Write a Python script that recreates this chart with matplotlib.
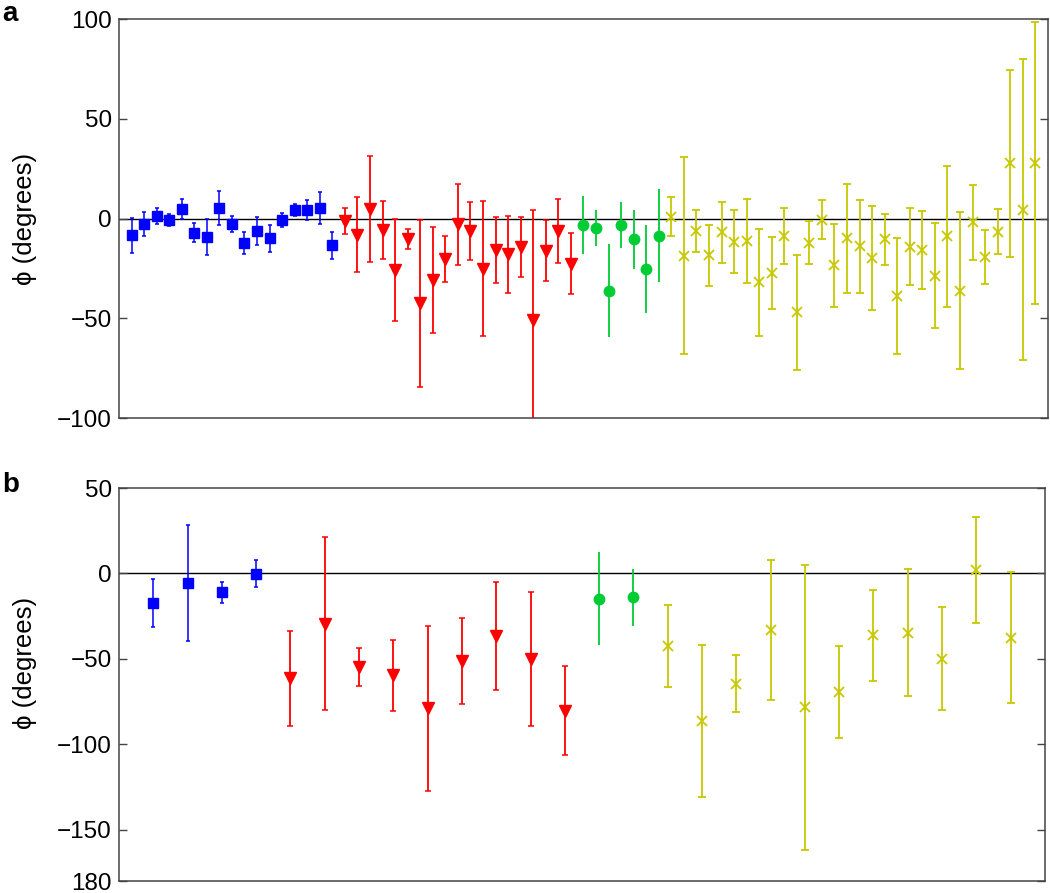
import matplotlib
matplotlib.use("Agg")
import matplotlib.pyplot as plt
import numpy as np

plt.rcParams['font.family'] = ['Liberation Sans', 'DejaVu Sans']
plt.rcParams['font.size'] = 17

# panel a: phase values and half-widths of the error bars
a_blue = [-8.3, -2.6, 1.3, -0.9, 4.9, -7.1, -9.1, 5.4, -2.8, -12.3, -6.3, -10.0,
          -0.8, 4.3, 4.4, 5.3, -13.5]
a_blue_err = [8.8, 6.1, 4.2, 3.0, 4.9, 4.7, 9.0, 8.6, 4.0, 5.7, 6.9, 7.0,
              3.7, 3.0, 5.1, 7.9, 6.7]
a_red = [-1.3, -8.1, 4.9, -5.9, -25.8, -10.2, -42.5, -30.7, -20.4, -2.9, -6.1,
         -25.1, -15.7, -17.9, -14.3, -51.0, -16.2, -6.4, -22.6]
a_red_err = [6.7, 18.9, 26.6, 14.6, 25.4, 5.1, 42.0, 26.6, 11.6, 20.4, 14.6,
             33.8, 16.4, 19.2, 15.2, 55.3, 15.3, 16.0, 15.3]
a_green = [-3.4, -4.8, -36.1, -3.3, -10.5, -25.3, -8.6]
a_green_err = [14.6, 9.0, 23.5, 11.7, 14.7, 21.9, 23.3]
a_yellow = [1.0, -18.6, -6.3, -18.3, -6.9, -11.6, -11.2, -32.0, -27.3, -8.8,
            -47.0, -12.1, -0.6, -23.4, -10.0, -13.8, -20.0, -10.5, -38.9, -14.2,
            -15.7, -28.6, -9.0, -36.1, -1.8, -19.1, -6.7, 27.6, 4.4, 27.8]
a_yellow_err = [10.0, 49.2, 10.7, 15.3, 15.2, 15.7, 20.9, 26.9, 18.2, 14.1,
                28.8, 10.8, 9.9, 20.8, 27.1, 23.3, 26.1, 12.6, 29.2, 19.3,
                19.4, 26.4, 35.3, 39.4, 18.8, 13.5, 11.3, 46.8, 75.5, 70.9]

# panel b
b_blue = [-17.3, -5.4, -11.1, -0.2]
b_blue_err = [13.9, 34.0, 6.3, 8.0]
b_red = [-61.4, -29.3, -54.8, -59.6, -79.0, -51.2, -36.8, -50.0, -80.2]
b_red_err = [27.8, 50.7, 10.9, 20.7, 48.2, 25.2, 31.6, 39.2, 26.3]
b_green = [-14.7, -13.9]
b_green_err = [27.3, 16.6]
b_yellow = [-42.3, -86.3, -64.5, -33.0, -78.2, -69.5, -36.2, -34.6, -49.9, 2.2, -37.5]
b_yellow_err = [24.0, 44.3, 16.6, 40.8, 83.4, 26.9, 26.8, 37.2, 30.0, 30.9, 38.5]

a_yticks = [100, 50, 0, -50, -100]
a_ylabels = ['100', '50', '0', '\u221250', '\u2212100']
b_yticks = [50, 0, -50, -100, -150, -180]
b_ylabels = ['50', '0', '\u221250', '\u2212100', '\u2212150', '180']

BLUE = '#0000ff'
RED = '#ff0000'
GREEN = '#00cc33'
YELLOW = '#c8c800'

styles = [
    dict(color=BLUE, marker='s', ms=6.5, capsize=1.5, elinewidth=1.1, capthick=1.1),
    dict(color=RED, marker='v', ms=8, capsize=2, elinewidth=1.3, capthick=1.1),
    dict(color=GREEN, marker='o', ms=7.5, capsize=0, elinewidth=1.3),
    dict(color=YELLOW, marker='x', ms=7, mew=1.3, capsize=3, elinewidth=1.3, capthick=1.1),
]


def draw_panel(ax, groups, xmax, ylim, yticks, ylabels, label_y):
    start = 1
    for (vals, errs), st in zip(groups, styles):
        x = np.arange(start, start + len(vals))
        ax.errorbar(x, vals, yerr=errs, linestyle='none', **st)
        start += len(vals)
    ax.axhline(0, color='black', lw=1.0, zorder=0)
    ax.set_xlim(0, xmax)
    ax.set_ylim(*ylim)
    ax.set_xticks([])
    ax.set_yticks(yticks)
    ax.set_yticklabels(ylabels)
    ax.tick_params(axis='y', direction='in', length=6, width=1, right=True,
                   labelsize=17.5, pad=5, color='#444444')
    for s in ax.spines.values():
        s.set_color('#444444')
        s.set_linewidth(1.1)
    ax.set_ylabel('\u03d5 (degrees)', fontsize=18.5)
    ax.yaxis.set_label_coords(-0.088, label_y)


fig = plt.figure(figsize=(10.5, 8.93), dpi=100)
ax1 = fig.add_axes([0.1133, 0.5319, 0.8847, 0.4468])
ax2 = fig.add_axes([0.1133, 0.0134, 0.8819, 0.4401])

draw_panel(ax1, [(a_blue, a_blue_err), (a_red, a_red_err), (a_green, a_green_err),
                 (a_yellow, a_yellow_err)], 74, (-100, 100), a_yticks, a_ylabels, 0.5)
draw_panel(ax2, [(b_blue, b_blue_err), (b_red, b_red_err), (b_green, b_green_err),
                 (b_yellow, b_yellow_err)], 27, (-180, 50), b_yticks, b_ylabels, 0.555)

fig.text(0.002, 0.999, 'a', fontsize=20, fontweight='bold', va='top', ha='left')
fig.text(0.002, 0.472, 'b', fontsize=20, fontweight='bold', va='top', ha='left')

fig.savefig('out.png', dpi=100)
